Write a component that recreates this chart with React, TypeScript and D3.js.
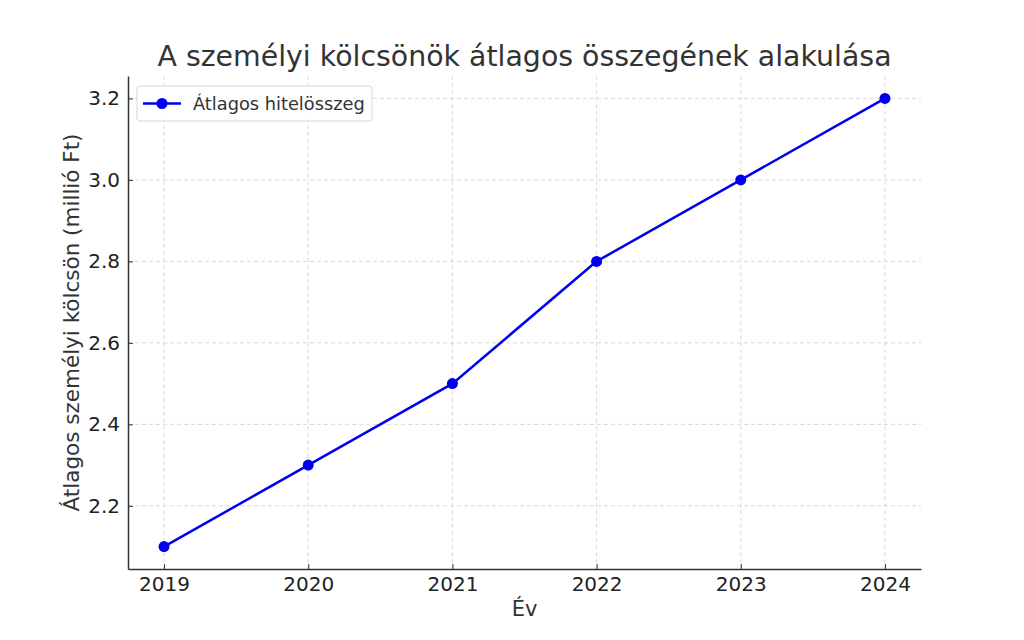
import React, { useEffect, useRef } from 'react';
import * as d3 from 'd3';

const years = [2019, 2020, 2021, 2022, 2023, 2024];
const amounts = [2.1, 2.3, 2.5, 2.8, 3.0, 3.2];
const yTicks = [2.2, 2.4, 2.6, 2.8, 3.0, 3.2];

const title = 'A személyi kölcsönök átlagos összegének alakulása';
const xLabel = 'Év';
const yLabel = 'Átlagos személyi kölcsön (millió Ft)';
const seriesName = 'Átlagos hitelösszeg';

export default function App() {
  const svgRef = useRef<SVGSVGElement>(null);

  useEffect(() => {
    if (!svgRef.current) return;
    const width = 1024;
    const height = 640;
    const margin = { top: 76, right: 103, bottom: 71, left: 128 };
    const font = 'DejaVu Sans, sans-serif';
    const color = '#0000ee';

    const svg = d3.select(svgRef.current);
    svg.selectAll('*').remove();
    svg.attr('viewBox', `0 0 ${width} ${height}`);

    const x = d3.scaleLinear().domain([2018.75, 2024.25]).range([margin.left, width - margin.right]);
    const y = d3.scaleLinear().domain([2.045, 3.255]).range([height - margin.bottom, margin.top]);

    // grid
    const grid = svg.append('g')
      .attr('stroke', '#cfcfcf')
      .attr('stroke-width', 0.8)
      .attr('stroke-dasharray', '4 3');
    grid.selectAll('.gx').data(years).enter().append('line')
      .attr('x1', d => x(d)).attr('x2', d => x(d))
      .attr('y1', margin.top).attr('y2', height - margin.bottom);
    grid.selectAll('.gy').data(yTicks).enter().append('line')
      .attr('y1', d => y(d)).attr('y2', d => y(d))
      .attr('x1', margin.left).attr('x2', width - margin.right);

    // axes (ticks point inward)
    const xAxis = svg.append('g')
      .attr('transform', `translate(0,${height - margin.bottom})`)
      .call(d3.axisBottom(x).tickValues(years).tickFormat(d3.format('d')).tickSizeInner(-5).tickSizeOuter(0).tickPadding(8));
    const yAxis = svg.append('g')
      .attr('transform', `translate(${margin.left},0)`)
      .call(d3.axisLeft(y).tickValues(yTicks).tickFormat(d3.format('.1f')).tickSizeInner(-5).tickSizeOuter(0).tickPadding(8));
    [xAxis, yAxis].forEach(a => {
      a.select('.domain').attr('stroke', '#333').attr('stroke-width', 1.5);
      a.selectAll('.tick line').attr('stroke', '#333').attr('stroke-width', 1);
      a.selectAll('.tick text').attr('fill', '#222').attr('font-size', 20).attr('font-family', font);
    });

    // line
    const line = d3.line<number>().x((_, i) => x(years[i])).y(d => y(d));
    svg.append('path')
      .datum(amounts)
      .attr('d', line)
      .attr('fill', 'none')
      .attr('stroke', color)
      .attr('stroke-width', 2.5);
    svg.selectAll('.pt').data(amounts).enter().append('circle')
      .attr('cx', (_, i) => x(years[i]))
      .attr('cy', d => y(d))
      .attr('r', 5.5)
      .attr('fill', color);

    // title and labels
    svg.append('text')
      .attr('x', (margin.left + width - margin.right) / 2)
      .attr('y', 66)
      .attr('text-anchor', 'middle')
      .attr('font-family', font)
      .attr('font-size', 28.4)
      .attr('fill', '#333')
      .text(title);
    svg.append('text')
      .attr('x', (margin.left + width - margin.right) / 2)
      .attr('y', 616)
      .attr('text-anchor', 'middle')
      .attr('font-family', font)
      .attr('font-size', 21)
      .attr('fill', '#333')
      .text(xLabel);
    svg.append('text')
      .attr('transform', `translate(79,${(margin.top + height - margin.bottom) / 2}) rotate(-90)`)
      .attr('text-anchor', 'middle')
      .attr('font-family', font)
      .attr('font-size', 21.5)
      .attr('fill', '#333')
      .text(yLabel);

    // legend
    const lg = svg.append('g').attr('transform', `translate(${margin.left + 9},${margin.top + 10})`);
    lg.append('rect')
      .attr('width', 235).attr('height', 35).attr('rx', 3)
      .attr('fill', 'white').attr('fill-opacity', 0.85)
      .attr('stroke', '#d6d6d6');
    lg.append('line')
      .attr('x1', 6).attr('x2', 44).attr('y1', 17.5).attr('y2', 17.5)
      .attr('stroke', color).attr('stroke-width', 2.5);
    lg.append('circle').attr('cx', 25).attr('cy', 17.5).attr('r', 5.5).attr('fill', color);
    lg.append('text')
      .attr('x', 56).attr('y', 24)
      .attr('font-family', font).attr('font-size', 17.8).attr('fill', '#333')
      .text(seriesName);
  }, []);

  return (
    <svg ref={svgRef} width={1024} height={640} style={{ display: 'block', margin: -8 }} />
  );
}
